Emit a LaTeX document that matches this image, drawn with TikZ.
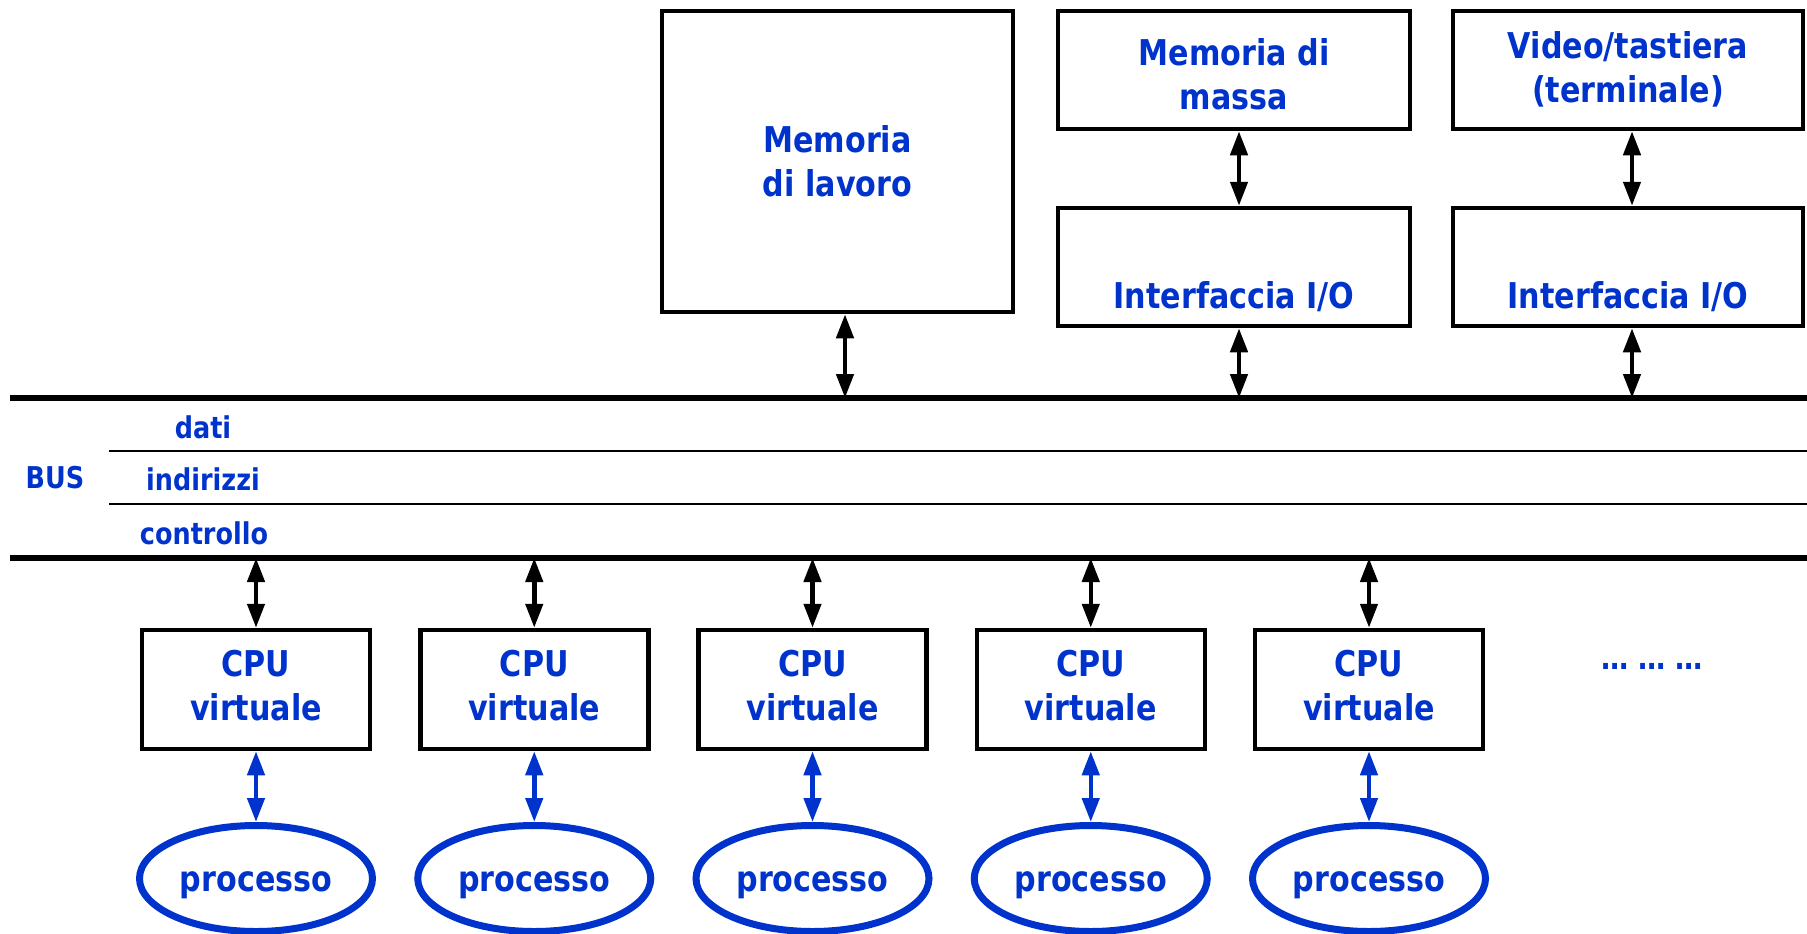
\documentclass[tikz,border=0pt]{standalone}
\usepackage{fontspec}
\setmainfont[FakeStretch=0.85]{DejaVu Sans}
\usetikzlibrary{shapes.geometric,arrows.meta}
\definecolor{tblue}{RGB}{0,51,204}
\tikzset{
  box/.style={draw=black, line width=4.5pt, inner sep=0pt, fill=white},
  lbl/.style={text=tblue, align=center, font=\fontsize{35.5}{44}\selectfont\bfseries, inner sep=0pt},
  buslbl/.style={text=tblue, font=\fontsize{30}{36}\selectfont\bfseries, inner sep=0pt},
  cpubox/.style={box, minimum width=228pt, minimum height=119pt},
  proc/.style={ellipse, draw=tblue, line width=7pt, minimum width=233pt, minimum height=106pt, inner sep=0pt},
  barr/.style={line width=4.5pt, draw=black, {Triangle[length=24pt,width=17pt]}-{Triangle[length=24pt,width=17pt]}},
  blarr/.style={line width=4.5pt, draw=tblue, {Triangle[length=24pt,width=17pt]}-{Triangle[length=24pt,width=17pt]}},
  thick bus/.style={line width=6pt, draw=black},
  thin bus/.style={line width=2pt, draw=black}
}
\begin{document}
\begin{tikzpicture}[x=1pt,y=-1pt]
\useasboundingbox (0,0) rectangle (1807,934);
% bus lines
\coordinate (bT0) at (10,398);   \coordinate (bT1) at (1807,398);
\coordinate (d0) at (109,451);   \coordinate (d1) at (1807,451);
\coordinate (i0) at (109,504);   \coordinate (i1) at (1807,504);
\coordinate (bB0) at (10,558);   \coordinate (bB1) at (1807,558);
\draw[thick bus] (bT0) -- (bT1);
\draw[thin bus] (d0) -- (d1);
\draw[thin bus] (i0) -- (i1);
\draw[thick bus] (bB0) -- (bB1);
\node[buslbl] (dati) at (203,427) {dati};
\node[buslbl] (bus) at (55,478) {BUS};
\node[buslbl] (ind) at (203,479) {indirizzi};
\node[buslbl] (ctl) at (204,533) {controllo};
% top boxes
\node[box, minimum width=351pt, minimum height=301pt] (mem) at (837.5,161.5) {};
\node[lbl] (memt) at (837.5,161.5) {Memoria\\di lavoro};
\node[box, minimum width=352pt, minimum height=118pt] (massa) at (1234,70) {};
\node[lbl] (massat) at (1234,74) {Memoria di\\massa};
\node[box, minimum width=352pt, minimum height=118pt] (io1) at (1234,267) {};
\node[lbl, anchor=base] (io1t) at (1234,308) {Interfaccia I/O};
\node[box, minimum width=350pt, minimum height=118pt] (video) at (1628,70) {};
\node[lbl] (videot) at (1628,69) {Video/tastiera\\(terminale)};
\node[box, minimum width=350pt, minimum height=118pt] (io2) at (1628,267) {};
\node[lbl, anchor=base] (io2t) at (1628,308) {Interfaccia I/O};
% arrows top
\coordinate (am) at (845,398);
\coordinate (a1) at (1239,398);
\coordinate (a2) at (1632,398);
\draw[barr] (am |- mem.south) -- (am);
\draw[barr] (a1 |- io1.south) -- (a1);
\draw[barr] (a1 |- massa.south) -- (a1 |- io1.north);
\draw[barr] (a2 |- io2.south) -- (a2);
\draw[barr] (a2 |- video.south) -- (a2 |- io2.north);
% CPUs
\foreach \i in {0,...,4} {
  \pgfmathsetmacro{\cx}{256+278.25*\i}
  \node[cpubox] (cpu\i) at (\cx,689.5) {};
  \node[lbl] (cput\i) at (\cx,686) {CPU\\virtuale};
  \node[proc] (p\i) at (\cx,878.5) {};
  \node[lbl, anchor=base] (pt\i) at (\cx,891) {processo};
  \coordinate (c\i) at (\cx,558);
  \draw[barr] (c\i) -- (cpu\i.north);
  \draw[blarr] (cpu\i.south) -- (p\i.north);
}
\node[text=tblue, font=\fontsize{32}{36}\selectfont\bfseries, inner sep=0pt] (dots) at (1652,666) {… … …};
\end{tikzpicture}
\end{document}
